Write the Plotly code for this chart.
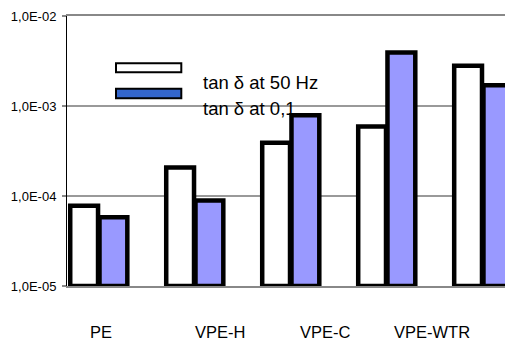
import plotly.graph_objects as go

# ---- data ----
groups = ["PE", "VPE-H", "VPE-C", "VPE-WTR", "5"]
tan_50hz = [7.8e-5, 2.07e-4, 3.9e-4, 5.9e-4, 2.8e-3]
tan_01hz = [5.8e-5, 8.9e-5, 7.9e-4, 3.93e-3, 1.70e-3]
group_labels = ["PE", "VPE-H", "VPE-C", "VPE-WTR"]
label_x = [0.023, 1.258, 2.367, 3.471]
y_ticks = [1e-5, 1e-4, 1e-3, 1e-2]
y_ticktext = ["1,0E-05", "1,0E-04", "1,0E-03", "1,0E-02"]
series_names = ["tan δ at 50 Hz", "tan δ at 0,1"]

BASE = 1e-5
FONT = "Liberation Sans, Arial, sans-serif"
W, H = 505, 342
ML, MR, MT, MB = 67, 0, 16, 56
PW, PH = W - ML - MR, H - MT - MB

def px_x(p):
    return (p - ML) / PW

def px_y(p):
    return (H - MB - p) / PH

xs = list(range(len(groups)))

fig = go.Figure()
fig.add_trace(go.Bar(
    x=xs, y=[v - BASE for v in tan_50hz], base=BASE, name=series_names[0],
    marker=dict(color="#FFFFFF", line=dict(color="#000000", width=4.5)),
    cliponaxis=False, showlegend=False,
))
fig.add_trace(go.Bar(
    x=xs, y=[v - BASE for v in tan_01hz], base=BASE, name=series_names[1],
    marker=dict(color="#9999FF", line=dict(color="#000000", width=4.5)),
    cliponaxis=False, showlegend=False,
))

shapes = [
    dict(type="rect", xref="paper", yref="paper",
         x0=px_x(116), x1=px_x(181.3), y0=px_y(72.3), y1=px_y(63.3),
         fillcolor="#FFFFFF", line=dict(color="#000000", width=2)),
    dict(type="rect", xref="paper", yref="paper",
         x0=px_x(116), x1=px_x(181.3), y0=px_y(98.3), y1=px_y(88.7),
         fillcolor="#3366CC", line=dict(color="#000000", width=2)),
]

annotations = [
    dict(text=series_names[0], xref="paper", yref="paper", x=px_x(201), y=px_y(82),
         xanchor="left", yanchor="middle", showarrow=False,
         font=dict(family=FONT, size=18.5, color="#000000")),
    dict(text=series_names[1], xref="paper", yref="paper", x=px_x(201), y=px_y(108.5),
         xanchor="left", yanchor="middle", showarrow=False,
         font=dict(family=FONT, size=18.5, color="#000000")),
]
for lab, lx in zip(group_labels, label_x):
    annotations.append(dict(text=lab, xref="x", yref="paper", x=lx, y=px_y(331.5),
                            xanchor="center", yanchor="middle", showarrow=False,
                            font=dict(family=FONT, size=16.5, color="#000000")))

fig.update_layout(
    width=W, height=H,
    margin=dict(l=ML, r=MR, t=MT, b=MB, pad=0),
    paper_bgcolor="#FFFFFF", plot_bgcolor="#FFFFFF",
    barmode="group", bargap=0.39, bargroupgap=0.05,
    font=dict(family=FONT, size=13, color="#000000"),
    shapes=shapes, annotations=annotations,
    xaxis=dict(range=[-0.331, 4.232], showticklabels=False, showgrid=False,
               zeroline=False, showline=True, linecolor="#888888", linewidth=2,
               mirror=True, ticks="", layer="below traces"),
    yaxis=dict(type="log", range=[-5, -2], tickvals=y_ticks, ticktext=y_ticktext,
               showgrid=True, gridcolor="#999999", gridwidth=1.5,
               showline=True, linecolor="#000000", linewidth=1,
               ticks="outside", ticklen=4, tickcolor="#888888", tickwidth=1.5,
               ticklabelstandoff=3,
               tickfont=dict(family=FONT, size=13, color="#000000"),
               layer="below traces", zeroline=False),
)

fig.write_html("out.html")
